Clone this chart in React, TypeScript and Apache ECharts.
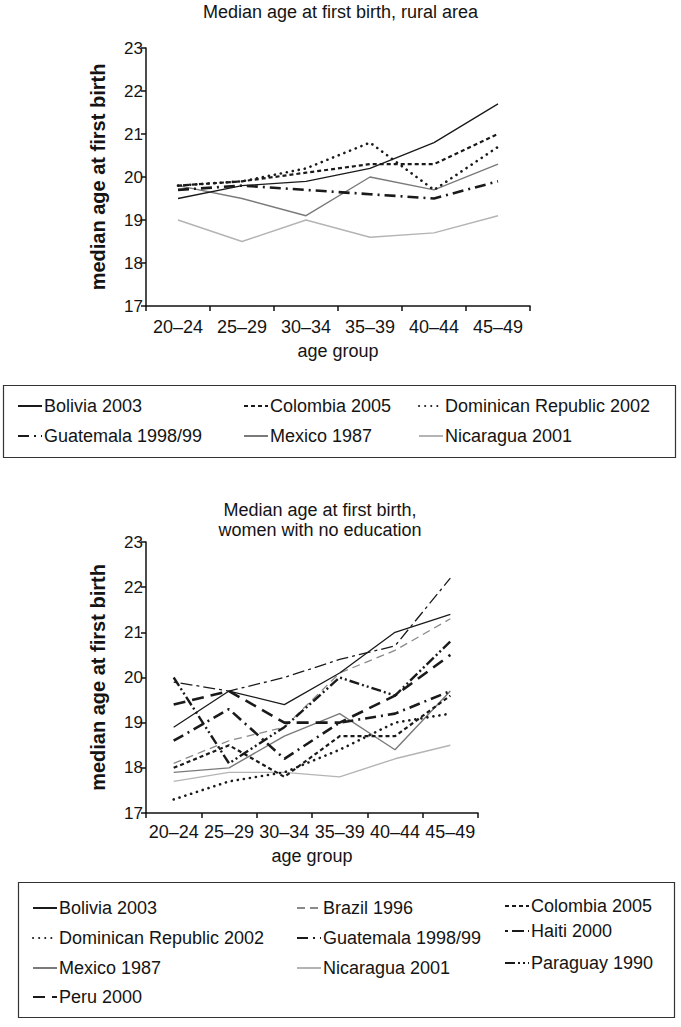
import React, { useEffect, useRef } from "react";
import * as echarts from "echarts";

// ---------- data ----------
const ageGroups = ["20–24", "25–29", "30–34", "35–39", "40–44", "45–49"];

// Top chart: rural area
const ruralBolivia = [19.5, 19.8, 19.9, 20.2, 20.8, 21.7];
const ruralColombia = [19.8, 19.9, 20.1, 20.3, 20.3, 21.0];
const ruralDominican = [19.8, 19.9, 20.2, 20.8, 19.7, 20.7];
const ruralGuatemala = [19.7, 19.8, 19.7, 19.6, 19.5, 19.9];
const ruralMexico = [19.8, 19.5, 19.1, 20.0, 19.7, 20.3];
const ruralNicaragua = [19.0, 18.5, 19.0, 18.6, 18.7, 19.1];

// Bottom chart: women with no education
const noEduBolivia = [18.9, 19.7, 19.4, 20.1, 21.0, 21.4];
const noEduBrazil = [18.1, 18.6, 18.9, 20.1, 20.6, 21.3];
const noEduColombia = [18.0, 18.5, 17.8, 18.7, 18.7, 19.6];
const noEduDominican = [17.3, 17.7, 17.9, 18.4, 19.0, 19.2];
const noEduGuatemala = [18.6, 19.3, 18.2, 19.0, 19.2, 19.7];
const noEduHaiti = [19.9, 19.7, 20.0, 20.4, 20.7, 22.2];
const noEduMexico = [17.9, 18.0, 18.7, 19.2, 18.4, 19.7];
const noEduNicaragua = [17.7, 17.9, 17.9, 17.8, 18.2, 18.5];
const noEduParaguay = [20.0, 18.1, 18.9, 20.0, 19.6, 20.8];
const noEduPeru = [19.4, 19.7, 19.0, 19.0, 19.6, 20.5];

const yTicks = { min: 17, max: 23, interval: 1 };

const topTitle = "Median age at first birth, rural area";
const bottomTitle = "Median age at first birth,\nwomen with no education";
const yName = "median age at first birth";
const xName = "age group";

// ---------- styles ----------
const FONT = "'Liberation Sans', Arial, Helvetica, sans-serif";
const INK = "#141414";

const styles: Record<string, any> = {
  "Bolivia 2003": { color: "#1a1a1a", width: 1.3, type: "solid" },
  "Brazil 1996": { color: "#8a8a8a", width: 1.3, type: [8, 5] },
  "Colombia 2005": { color: "#1a1a1a", width: 2.2, type: [4, 3] },
  "Dominican Republic 2002": { color: "#1a1a1a", width: 2.6, type: [0.1, 6], cap: "round" },
  "Guatemala 1998/99": { color: "#1a1a1a", width: 2.6, type: [11, 5, 2, 5] },
  "Haiti 2000": { color: "#1a1a1a", width: 1.3, type: [3, 4, 12, 4] },
  "Mexico 1987": { color: "#7a7a7a", width: 1.4, type: "solid" },
  "Nicaragua 2001": { color: "#b4b4b4", width: 1.4, type: "solid" },
  "Paraguay 1990": { color: "#1a1a1a", width: 2.4, type: [10, 3, 2, 3, 2, 3] },
  "Peru 2000": { color: "#1a1a1a", width: 2.6, type: [12, 7] },
};

const topSeries: [string, number[]][] = [
  ["Bolivia 2003", ruralBolivia],
  ["Colombia 2005", ruralColombia],
  ["Dominican Republic 2002", ruralDominican],
  ["Guatemala 1998/99", ruralGuatemala],
  ["Mexico 1987", ruralMexico],
  ["Nicaragua 2001", ruralNicaragua],
];

const bottomSeries: [string, number[]][] = [
  ["Bolivia 2003", noEduBolivia],
  ["Brazil 1996", noEduBrazil],
  ["Colombia 2005", noEduColombia],
  ["Dominican Republic 2002", noEduDominican],
  ["Guatemala 1998/99", noEduGuatemala],
  ["Haiti 2000", noEduHaiti],
  ["Mexico 1987", noEduMexico],
  ["Nicaragua 2001", noEduNicaragua],
  ["Paraguay 1990", noEduParaguay],
  ["Peru 2000", noEduPeru],
];

// legend placements [name, left, top]
const topLegendPos: [string, number, number][] = [
  ["Bolivia 2003", 17, 397],
  ["Colombia 2005", 243, 397],
  ["Dominican Republic 2002", 418, 397],
  ["Guatemala 1998/99", 17, 427],
  ["Mexico 1987", 243, 427],
  ["Nicaragua 2001", 418, 427],
];
const bottomLegendPos: [string, number, number][] = [
  ["Bolivia 2003", 32, 899],
  ["Brazil 1996", 296, 899],
  ["Colombia 2005", 504, 897],
  ["Dominican Republic 2002", 32, 929],
  ["Guatemala 1998/99", 296, 929],
  ["Haiti 2000", 504, 922],
  ["Mexico 1987", 32, 959],
  ["Nicaragua 2001", 296, 959],
  ["Paraguay 1990", 504, 954],
  ["Peru 2000", 32, 988],
];

function makeLine(name: string, data: number[], idx: number) {
  const s = styles[name];
  return {
    type: "line",
    name,
    data,
    xAxisIndex: idx,
    yAxisIndex: idx,
    symbol: "none",
    showSymbol: false,
    silent: true,
    lineStyle: { color: s.color, width: s.width, type: s.type, cap: s.cap || "butt" },
    itemStyle: { color: s.color },
    z: name === "Nicaragua 2001" || name === "Mexico 1987" || name === "Brazil 1996" ? 2 : 3,
  };
}

function makeLegend(name: string, left: number, top: number) {
  return {
    data: [name],
    left,
    top,
    padding: 0,
    itemWidth: 24,
    itemHeight: 12,
    itemGap: 0,
    selectedMode: false,
    itemStyle: { opacity: 0, color: "rgba(0,0,0,0)", borderWidth: 0 },
    textStyle: { fontFamily: FONT, fontSize: 18, color: INK, padding: [0, 0, 0, -3] },
  };
}

function axisPair(idx: number, grid: any, labelMargin: number, nameGap: number) {
  const xAxis = {
    type: "category",
    gridIndex: idx,
    data: ageGroups,
    boundaryGap: true,
    name: xName,
    nameLocation: "middle",
    nameGap,
    nameTextStyle: { fontFamily: FONT, fontSize: 18, color: INK },
    axisLine: { lineStyle: { color: "#111", width: 1.5 } },
    axisTick: { show: true, length: 5, lineStyle: { color: "#111", width: 1.5 } },
    axisLabel: { interval: 0, margin: labelMargin, fontFamily: FONT, fontSize: 18, color: INK },
    splitLine: { show: false },
  };
  const yAxis = {
    type: "value",
    gridIndex: idx,
    min: yTicks.min,
    max: yTicks.max,
    interval: yTicks.interval,
    name: yName,
    nameLocation: "middle",
    nameRotate: 90,
    nameGap: 38,
    nameTextStyle: { fontFamily: FONT, fontSize: 20, fontWeight: "bold", color: INK },
    axisLine: { show: true, lineStyle: { color: "#111", width: 1.5 } },
    axisTick: { show: true, length: 5, lineStyle: { color: "#111", width: 1.5 } },
    axisLabel: { margin: 3, fontFamily: FONT, fontSize: 17, color: INK },
    splitLine: { show: false },
  };
  return { xAxis, yAxis, grid };
}

export default function App() {
  const ref = useRef<HTMLDivElement>(null);

  useEffect(() => {
    if (!ref.current) return;
    const chart = echarts.init(ref.current, undefined, { renderer: "svg" });

    const a0 = axisPair(0, { left: 146, top: 48, width: 384, height: 258 }, 12, 36);
    const a1 = axisPair(1, { left: 146, top: 542, width: 332, height: 271 }, 10, 34);

    const option: any = {
      animation: false,
      backgroundColor: "#ffffff",
      textStyle: { fontFamily: FONT },
      title: [
        {
          text: topTitle,
          left: "center",
          top: 3,
          padding: 0,
          textStyle: { fontFamily: FONT, fontSize: 18, fontWeight: "normal", color: INK },
        },
        {
          text: bottomTitle,
          left: 320,
          top: 500,
          padding: 0,
          textAlign: "center",
          textStyle: { fontFamily: FONT, fontSize: 18, fontWeight: "normal", color: INK, lineHeight: 20 },
        },
      ],
      grid: [a0.grid, a1.grid],
      xAxis: [a0.xAxis, a1.xAxis],
      yAxis: [a0.yAxis, a1.yAxis],
      legend: [
        ...topLegendPos.map(([n, l, t]) => makeLegend(n, l, t)),
        ...bottomLegendPos.map(([n, l, t]) => makeLegend(n, l, t)),
      ],
      graphic: [
        {
          type: "rect",
          shape: { x: 3.5, y: 385.5, width: 672, height: 72 },
          style: { fill: "none", stroke: "#333", lineWidth: 1.2 },
          silent: true,
        },
        {
          type: "rect",
          shape: { x: 18.5, y: 882.5, width: 656, height: 135 },
          style: { fill: "none", stroke: "#333", lineWidth: 1.2 },
          silent: true,
        },
      ],
      series: [
        ...topSeries.map(([n, d]) => makeLine(n, d, 0)),
        ...bottomSeries.map(([n, d]) => makeLine(n, d, 1)),
      ],
    };

    chart.setOption(option);
    return () => chart.dispose();
  }, []);

  return (
    <div
      ref={ref}
      style={{ position: "absolute", left: 0, top: 0, width: 681, height: 1027, background: "#fff" }}
    />
  );
}
